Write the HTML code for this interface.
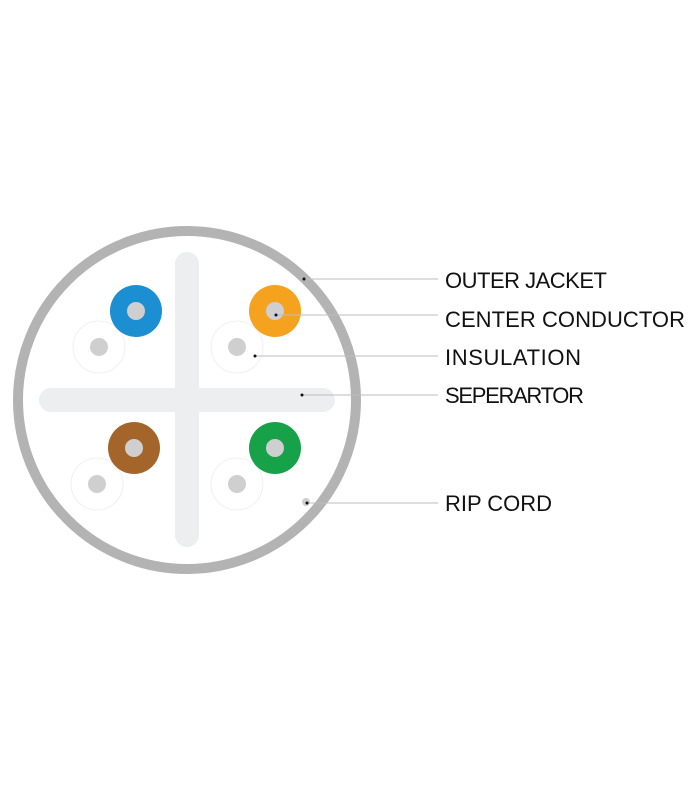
<!DOCTYPE html>
<html><head><meta charset="utf-8"><style>html,body{margin:0;padding:0;background:#fff}</style></head>
<body>
<svg width="700" height="800" viewBox="0 0 700 800" xmlns="http://www.w3.org/2000/svg">
<rect width="700" height="800" fill="#fff"/>
<circle cx="187" cy="400" r="169" fill="#fff" stroke="#b3b3b3" stroke-width="10"/>
<rect x="175" y="252" width="24" height="295" rx="12" fill="#eceef0"/>
<rect x="39" y="388" width="296" height="24" rx="12" fill="#eceef0"/>
<g fill="#fff" stroke="#ececec" stroke-width="0.8">
<circle cx="99" cy="347" r="26"/><circle cx="237" cy="347" r="26"/>
<circle cx="97" cy="484" r="26"/><circle cx="237" cy="484" r="26"/>
</g>
<g fill="#cfcfcf">
<circle cx="99" cy="347" r="9"/><circle cx="237" cy="347" r="9"/>
<circle cx="97" cy="484" r="9"/><circle cx="237" cy="484" r="9"/>
</g>
<circle cx="136" cy="311" r="26" fill="#1b8fd2"/>
<circle cx="275" cy="311" r="26" fill="#f5a21f"/>
<circle cx="134" cy="448" r="26" fill="#a4652a"/>
<circle cx="275" cy="448" r="26" fill="#17a24a"/>
<g fill="#cfcfcf">
<circle cx="136" cy="311" r="9"/><circle cx="275" cy="311" r="9"/>
<circle cx="134" cy="448" r="9"/><circle cx="275" cy="448" r="9"/>
<circle cx="306" cy="502" r="4"/>
</g>
<g stroke="#bdbdbd" stroke-width="1">
<line x1="304" y1="279" x2="438" y2="279"/>
<line x1="276" y1="315" x2="438" y2="315"/>
<line x1="255" y1="356" x2="438" y2="356"/>
<line x1="302" y1="395" x2="438" y2="395"/>
<line x1="307" y1="503" x2="438" y2="503"/>
</g>
<g fill="#111">
<circle cx="304" cy="279" r="1.5"/><circle cx="276" cy="315" r="1.5"/>
<circle cx="255" cy="356" r="1.5"/><circle cx="302" cy="395" r="1.5"/>
<circle cx="307" cy="503" r="1.5"/>
</g>
<g font-family="Liberation Sans, sans-serif" font-size="22" fill="#111">
<text x="445" y="288" textLength="162">OUTER JACKET</text>
<text x="445" y="327" textLength="240">CENTER CONDUCTOR</text>
<text x="445" y="365" textLength="136">INSULATION</text>
<text x="445" y="403" textLength="139">SEPERARTOR</text>
<text x="445" y="511" textLength="107">RIP CORD</text>
</g>
</svg>
</body></html>
